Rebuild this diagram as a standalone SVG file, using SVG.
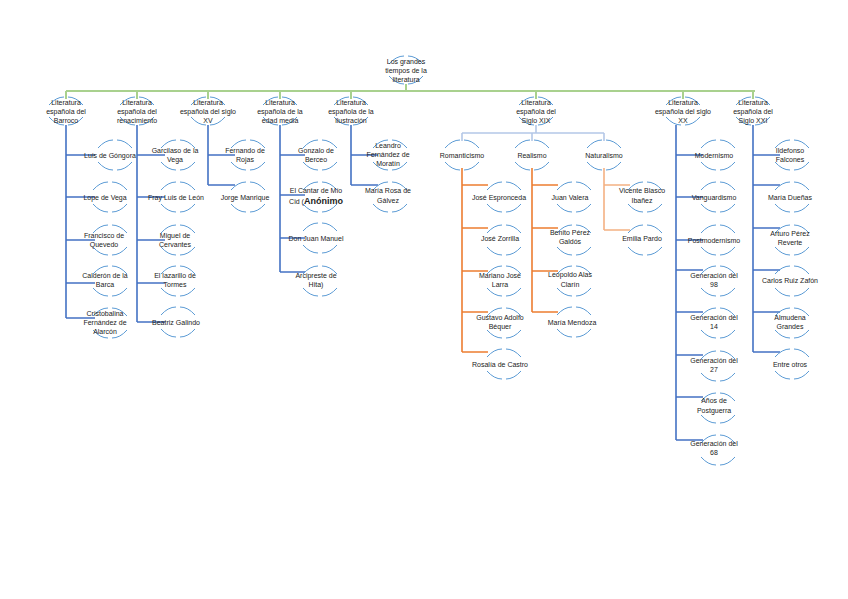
<svg xmlns="http://www.w3.org/2000/svg" xmlns:xlink="http://www.w3.org/1999/xlink" width="848" height="599" viewBox="0 0 848 599">
<style>
text{font-family:"Liberation Sans",Arial,sans-serif;font-size:7px;fill:#222;text-anchor:middle}
.arc{fill:none;stroke:#5b9bd5;stroke-width:1}
.g{stroke:#a9d18e;stroke-width:2;fill:none}
.b{stroke:#4472c4;stroke-width:1.6;fill:none}
.lb{stroke:#b4c7e7;stroke-width:1.6;fill:none}
.o{stroke:#ed7d31;stroke-width:1.6;fill:none}
.lo{stroke:#f4b183;stroke-width:1.6;fill:none}
</style>
<defs>
<g id="a"><path class="arc" d="M-17,-7 Q-10,-15 -2,-15 M2,-15 Q10,-15 17,-7"/><path class="arc" d="M-17,7 Q-10,15 -2,15 M2,15 Q10,15 17,7"/></g>
<g id="A"><path class="arc" d="M-17,-6 Q-10,-14 -2,-14 M2,-14 Q10,-14 17,-6"/><path class="arc" d="M-17,6 Q-10,14 -2,14 M2,14 Q10,14 17,6"/></g>
</defs>
<g id="connectors">
<path class="g" d="M406,84V91M66,91H755M66,91V99M137,91V99M208,91V99M280,91V99M351,91V99M536,91V99M683,91V99M753,91V99"/>
<path class="b" d="M66,125V318M66,155H95M66,197H95M66,240H95M66,283H95M66,318H95"/>
<path class="b" d="M137,125V322M137,155H165M137,197H165M137,240H165M137,283H165M137,322H165"/>
<path class="b" d="M208,125V185M208,155H235M208,185H235"/>
<path class="b" d="M280,125V272M280,155H305M280,195H305M280,238H305M280,272H305"/>
<path class="b" d="M351,125V185M351,155H378M351,185H378"/>
<path class="lb" d="M536,125V133M462,133H604M462,133V141M532,133V141M604,133V141"/>
<path class="o" d="M462,168V352M462,185H488M462,228H488M462,271H488M462,312H488M462,352H488"/>
<path class="o" d="M532,168V312M532,185H558M532,228H558M532,271H558M532,312H558"/>
<path class="lo" d="M604,168V230M604,185H630M604,230H630"/>
<path class="b" d="M676,125V440M676,155H703M676,197H703M676,240H703M676,270H703M676,312H703M676,355H703M676,397H703M676,440H703"/>
<path class="b" d="M753,125V352M753,155H780M753,185H780M753,228H780M753,270H780M753,312H780M753,352H780"/>
</g>
<g id="root"><use xlink:href="#A" x="406" y="70"/><text x="406" y="64">Los grandes</text><text x="406" y="73">tiempos de la</text><text x="406" y="82">literatura</text></g>
<g id="l1-barroco"><use xlink:href="#A" x="66" y="111"/><text x="66" y="105">Literatura</text><text x="66" y="114">española del</text><text x="66" y="123">Barroco</text></g>
<g id="l1-renac"><use xlink:href="#A" x="137" y="111"/><text x="137" y="105">Literatura</text><text x="137" y="114">española del</text><text x="137" y="123">renacimiento</text></g>
<g id="l1-xv"><use xlink:href="#A" x="208" y="111"/><text x="208" y="105">Literatura</text><text x="208" y="114">española del siglo</text><text x="208" y="123">XV</text></g>
<g id="l1-media"><use xlink:href="#A" x="280" y="111"/><text x="280" y="105">Literatura</text><text x="280" y="114">española de la</text><text x="280" y="123">edad media</text></g>
<g id="l1-ilus"><use xlink:href="#A" x="351" y="111"/><text x="351" y="105">Literatura</text><text x="351" y="114">española de la</text><text x="351" y="123">ilustración</text></g>
<g id="l1-xix"><use xlink:href="#A" x="536" y="111"/><text x="536" y="105">Literatura</text><text x="536" y="114">española del</text><text x="536" y="123">Siglo XIX</text></g>
<g id="l1-xx"><use xlink:href="#A" x="683" y="111"/><text x="683" y="105">Literatura</text><text x="683" y="114">española del siglo</text><text x="683" y="123">XX</text></g>
<g id="l1-xxi"><use xlink:href="#A" x="753" y="111"/><text x="753" y="105">Literatura</text><text x="753" y="114">española del</text><text x="753" y="123">Siglo XXI</text></g>
<g id="romanticismo"><use xlink:href="#a" x="462" y="155"/><text x="462" y="158">Romanticismo</text></g>
<g id="realismo"><use xlink:href="#a" x="532" y="155"/><text x="532" y="158">Realismo</text></g>
<g id="naturalismo"><use xlink:href="#a" x="604" y="155"/><text x="604" y="158">Naturalismo</text></g>
<!-- Barroco -->
<g id="gongora"><use xlink:href="#a" x="115" y="155"/><text x="110" y="158">Luis de Góngora</text></g>
<g id="lope"><use xlink:href="#a" x="110" y="197"/><text x="105" y="200">Lope de Vega</text></g>
<g id="quevedo"><use xlink:href="#a" x="110" y="240"/><text x="104" y="238">Francisco de</text><text x="104" y="247">Quevedo</text></g>
<g id="calderon"><use xlink:href="#a" x="110" y="281"/><text x="105" y="278">Calderón de la</text><text x="105" y="287">Barca</text></g>
<g id="cristobalina"><use xlink:href="#a" x="110" y="323"/><text x="105" y="316">Cristobalina</text><text x="105" y="325">Fernández de</text><text x="105" y="334">Alarcón</text></g>
<!-- Renacimiento -->
<g id="garcilaso"><use xlink:href="#a" x="178" y="155"/><text x="175" y="153">Garcilaso de la</text><text x="175" y="162">Vega</text></g>
<g id="fray"><use xlink:href="#a" x="178" y="197"/><text x="176" y="200">Fray Luis de León</text></g>
<g id="cervantes"><use xlink:href="#a" x="178" y="240"/><text x="175" y="238">Miguel de</text><text x="175" y="247">Cervantes</text></g>
<g id="lazarillo"><use xlink:href="#a" x="178" y="281"/><text x="175" y="278">El lazarillo de</text><text x="175" y="287">Tormes</text></g>
<g id="beatriz"><use xlink:href="#a" x="178" y="322"/><text x="176" y="325">Beatriz Galindo</text></g>
<!-- XV -->
<g id="rojas"><use xlink:href="#a" x="248" y="155"/><text x="245" y="153">Fernando de</text><text x="245" y="162">Rojas</text></g>
<g id="manrique"><use xlink:href="#a" x="248" y="197"/><text x="245" y="200">Jorge Manrique</text></g>
<!-- Edad media -->
<g id="berceo"><use xlink:href="#a" x="320" y="155"/><text x="316" y="153">Gonzalo de</text><text x="316" y="162">Berceo</text></g>
<g id="cid"><use xlink:href="#a" x="320" y="197"/><text x="316" y="193">El Cantar de Mío</text><text x="316" y="204">Cid (<tspan font-weight="bold" font-size="9">Anónimo</tspan></text></g>
<g id="juanmanuel"><use xlink:href="#a" x="320" y="238"/><text x="316" y="241">Don Juan Manuel</text></g>
<g id="hita"><use xlink:href="#a" x="320" y="281"/><text x="316" y="278">Arcipreste de</text><text x="316" y="287">Hita)</text></g>
<!-- Ilustración -->
<g id="moratin"><use xlink:href="#a" x="390" y="155"/><text x="388" y="148">Leandro</text><text x="388" y="157">Fernández de</text><text x="388" y="166">Moratín</text></g>
<g id="mrgalvez"><use xlink:href="#a" x="390" y="197"/><text x="388" y="193">María Rosa de</text><text x="388" y="203">Gálvez</text></g>
<!-- Romanticismo -->
<g id="espronceda"><use xlink:href="#a" x="504" y="197"/><text x="499" y="200">José Espronceda</text></g>
<g id="zorrilla"><use xlink:href="#a" x="504" y="240"/><text x="500" y="241">José Zorrilla</text></g>
<g id="larra"><use xlink:href="#a" x="504" y="281"/><text x="500" y="278">Mariano José</text><text x="500" y="287">Larra</text></g>
<g id="bequer"><use xlink:href="#a" x="504" y="323"/><text x="500" y="320">Gustavo Adolfo</text><text x="500" y="329">Béquer</text></g>
<g id="rosalia"><use xlink:href="#a" x="504" y="364"/><text x="500" y="367">Rosalía de Castro</text></g>
<!-- Realismo -->
<g id="valera"><use xlink:href="#a" x="574" y="197"/><text x="570" y="200">Juan Valera</text></g>
<g id="galdos"><use xlink:href="#a" x="574" y="240"/><text x="570" y="235">Benito Pérez</text><text x="570" y="244">Galdós</text></g>
<g id="clarin"><use xlink:href="#a" x="574" y="281"/><text x="570" y="277">Leopoldo Alas</text><text x="570" y="287">Clarín</text></g>
<g id="mendoza"><use xlink:href="#a" x="574" y="322"/><text x="572" y="325">María Mendoza</text></g>
<!-- Naturalismo -->
<g id="blasco"><use xlink:href="#a" x="645" y="197"/><text x="642" y="193">Vicente Blasco</text><text x="642" y="203">Ibañez</text></g>
<g id="pardo"><use xlink:href="#a" x="645" y="240"/><text x="642" y="241">Emilia Pardo</text></g>
<!-- XX -->
<g id="modernismo"><use xlink:href="#a" x="718" y="155"/><text x="714" y="158">Modernismo</text></g>
<g id="vanguardismo"><use xlink:href="#a" x="718" y="197"/><text x="714" y="200">Vanguardismo</text></g>
<g id="postmodernismo"><use xlink:href="#a" x="718" y="240"/><text x="714" y="243">Postmodernismo</text></g>
<g id="g98"><use xlink:href="#a" x="718" y="281"/><text x="714" y="278">Generación del</text><text x="714" y="287">98</text></g>
<g id="g14"><use xlink:href="#a" x="718" y="323"/><text x="714" y="320">Generación del</text><text x="714" y="329">14</text></g>
<g id="g27"><use xlink:href="#a" x="718" y="366"/><text x="714" y="363">Generación del</text><text x="714" y="372">27</text></g>
<g id="postguerra"><use xlink:href="#a" x="718" y="408"/><text x="714" y="403">Años de</text><text x="714" y="413">Postguerra</text></g>
<g id="g68"><use xlink:href="#a" x="718" y="450"/><text x="714" y="446">Generación del</text><text x="714" y="455">68</text></g>
<!-- XXI -->
<g id="falcones"><use xlink:href="#a" x="792" y="155"/><text x="790" y="153">Ildefonso</text><text x="790" y="162">Falcones</text></g>
<g id="duenas"><use xlink:href="#a" x="792" y="197"/><text x="790" y="200">María Dueñas</text></g>
<g id="reverte"><use xlink:href="#a" x="792" y="240"/><text x="790" y="236">Arturo Pérez</text><text x="790" y="245">Reverte</text></g>
<g id="zafon"><use xlink:href="#a" x="792" y="281"/><text x="790" y="283">Carlos Ruiz Zafón</text></g>
<g id="grandes"><use xlink:href="#a" x="792" y="323"/><text x="790" y="320">Almudena</text><text x="790" y="329">Grandes</text></g>
<g id="otros"><use xlink:href="#a" x="792" y="364"/><text x="790" y="367">Entre otros</text></g>
</svg>
